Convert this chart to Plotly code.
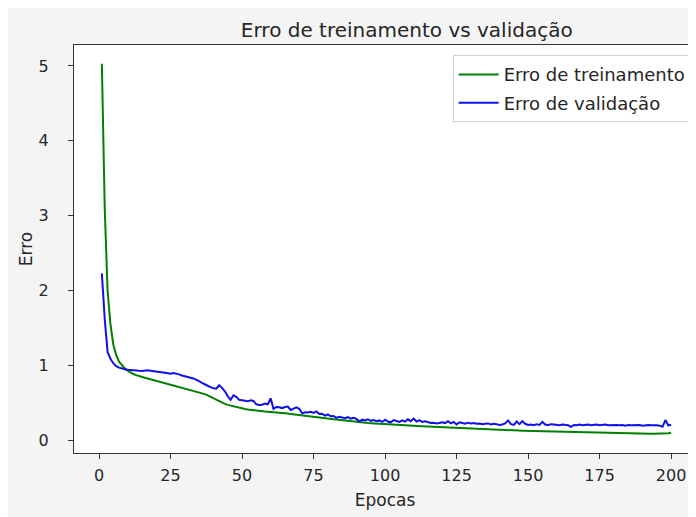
"""Training vs validation error curves."""

import plotly.graph_objects as go

epocas = list(range(1, 201))

erro_treino = [
    5.03, 3.10, 2.00, 1.55, 1.28, 1.14, 1.05, 1.00, 0.96, 0.93,
    0.905, 0.885, 0.87, 0.855, 0.845, 0.835, 0.825, 0.815, 0.805, 0.795,
    0.785, 0.775, 0.765, 0.755, 0.742, 0.732, 0.722, 0.712, 0.703, 0.695,
    0.686, 0.676, 0.666, 0.656, 0.645, 0.632, 0.617, 0.600, 0.580, 0.560,
    0.540, 0.520, 0.502, 0.487, 0.473, 0.462, 0.451, 0.441, 0.432, 0.424,
    0.417, 0.411, 0.405, 0.400, 0.395, 0.391, 0.387, 0.383, 0.380, 0.378,
    0.375, 0.371, 0.367, 0.363, 0.359, 0.356, 0.352, 0.348, 0.344, 0.340,
    0.336, 0.332, 0.327, 0.322, 0.318, 0.313, 0.308, 0.303, 0.298, 0.292,
    0.287, 0.282, 0.277, 0.272, 0.267, 0.262, 0.257, 0.252, 0.248, 0.244,
    0.241, 0.238, 0.235, 0.232, 0.229, 0.226, 0.223, 0.220, 0.217, 0.214,
    0.212, 0.210, 0.208, 0.206, 0.204, 0.202, 0.200, 0.198, 0.196, 0.194,
    0.192, 0.190, 0.188, 0.186, 0.184, 0.182, 0.180, 0.178, 0.176, 0.174,
    0.172, 0.170, 0.168, 0.167, 0.166, 0.164, 0.162, 0.160, 0.158, 0.157,
    0.155, 0.153, 0.151, 0.150, 0.148, 0.146, 0.145, 0.143, 0.141, 0.140,
    0.138, 0.137, 0.135, 0.134, 0.132, 0.131, 0.129, 0.128, 0.127, 0.125,
    0.124, 0.123, 0.121, 0.120, 0.119, 0.118, 0.117, 0.116, 0.115, 0.114,
    0.113, 0.112, 0.111, 0.110, 0.109, 0.108, 0.107, 0.106, 0.105, 0.104,
    0.103, 0.102, 0.101, 0.100, 0.099, 0.099, 0.098, 0.097, 0.096, 0.096,
    0.095, 0.094, 0.094, 0.093, 0.092, 0.092, 0.091, 0.091, 0.090, 0.090,
    0.089, 0.089, 0.088, 0.088, 0.088, 0.087, 0.087, 0.087, 0.095, 0.100,
]

erro_validacao = [
    2.23, 1.62, 1.18, 1.09, 1.03, 0.99, 0.97, 0.955, 0.948, 0.942,
    0.936, 0.933, 0.930, 0.928, 0.926, 0.931, 0.934, 0.929, 0.925, 0.920,
    0.918, 0.909, 0.902, 0.895, 0.888, 0.897, 0.893, 0.880, 0.865, 0.852,
    0.846, 0.835, 0.826, 0.812, 0.790, 0.765, 0.742, 0.728, 0.710, 0.694,
    0.690, 0.735, 0.700, 0.655, 0.590, 0.540, 0.600, 0.580, 0.540, 0.535,
    0.535, 0.520, 0.535, 0.525, 0.480, 0.470, 0.475, 0.490, 0.480, 0.560,
    0.420, 0.445, 0.440, 0.430, 0.445, 0.450, 0.405, 0.420, 0.440, 0.420,
    0.360, 0.375, 0.370, 0.380, 0.365, 0.385, 0.350, 0.355, 0.330, 0.345,
    0.320, 0.325, 0.300, 0.315, 0.305, 0.295, 0.310, 0.290, 0.300, 0.285,
    0.250, 0.275, 0.265, 0.280, 0.260, 0.270, 0.255, 0.265, 0.245, 0.275,
    0.250, 0.240, 0.270, 0.255, 0.245, 0.265, 0.250, 0.280, 0.255, 0.290,
    0.250, 0.270, 0.245, 0.255, 0.240, 0.230, 0.235, 0.225, 0.230, 0.240,
    0.230, 0.255, 0.225, 0.245, 0.210, 0.240, 0.230, 0.220, 0.235, 0.225,
    0.230, 0.220, 0.225, 0.215, 0.220, 0.225, 0.210, 0.220, 0.215, 0.205,
    0.210, 0.225, 0.265, 0.215, 0.205, 0.250, 0.215, 0.255, 0.220, 0.205,
    0.210, 0.200, 0.215, 0.205, 0.245, 0.210, 0.200, 0.215, 0.210, 0.205,
    0.200, 0.210, 0.205, 0.200, 0.180, 0.205, 0.200, 0.210, 0.200, 0.205,
    0.210, 0.200, 0.205, 0.210, 0.200, 0.205, 0.210, 0.200, 0.205, 0.200,
    0.205, 0.200, 0.205, 0.195, 0.205, 0.200, 0.205, 0.200, 0.205, 0.195,
    0.200, 0.205, 0.200, 0.205, 0.200, 0.195, 0.180, 0.270, 0.200, 0.205,
]

TEXT = "#262626"
FONT = "DejaVu Sans"

fig = go.Figure()
fig.add_trace(go.Scatter(
    x=epocas, y=erro_treino, mode="lines", name="Erro de treinamento",
    line=dict(color="green", width=2), legendgroup="a",
))
fig.add_trace(go.Scatter(
    x=epocas, y=erro_validacao, mode="lines", name="Erro de validação",
    line=dict(color="#1010e8", width=2), legendgroup="b",
))

# page body adds an 8px offset, so the figure is 8px smaller and shifted
fig.update_layout(
    width=688,
    height=509,
    margin=dict(l=66, r=0, t=37, b=64),
    paper_bgcolor="#f4f4f4",
    plot_bgcolor="white",
    font=dict(family=FONT, size=16, color=TEXT),
    title=dict(
        text="Erro de treinamento vs validação",
        x=0.535, xref="paper", xanchor="center",
        y=1 - 22 / 509, yref="container", yanchor="middle",
        font=dict(size=20, color=TEXT),
    ),
    legend=dict(
        x=0.993, y=0.975, xanchor="right", yanchor="top",
        bgcolor="white", bordercolor="#d0d0d0", borderwidth=1,
        font=dict(size=18, color=TEXT),
        traceorder="grouped", tracegroupgap=2, itemwidth=40,
    ),
    xaxis=dict(
        title=dict(text="Epocas", standoff=9, font=dict(size=17)),
        range=[-8.74, 208.7],
        tickvals=[0, 25, 50, 75, 100, 125, 150, 175, 200],
        tickfont=dict(size=16),
        ticklabelstandoff=3,
        showgrid=False, zeroline=False,
        showline=True, linecolor="#333333", linewidth=1, mirror=True,
        ticks="outside", ticklen=5, tickcolor="#333333",
    ),
    yaxis=dict(
        title=dict(text="Erro", standoff=1, font=dict(size=17)),
        range=[-0.17, 5.28],
        tickvals=[0, 1, 2, 3, 4, 5],
        tickfont=dict(size=16),
        ticklabelstandoff=16,
        showgrid=False, zeroline=False,
        showline=True, linecolor="#333333", linewidth=1, mirror=False,
        ticks="outside", ticklen=5, tickcolor="#333333",
    ),
)

fig.write_html("out.html")
